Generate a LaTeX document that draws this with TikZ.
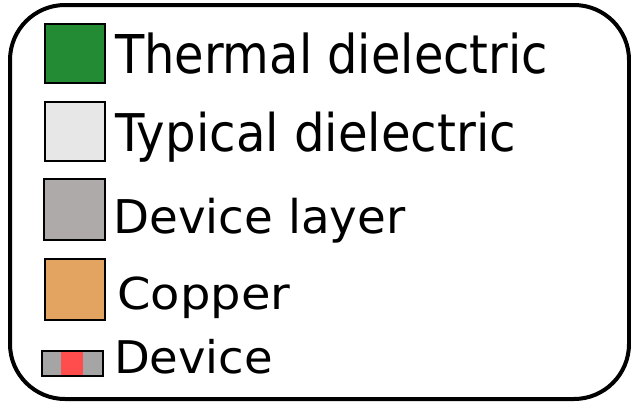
\documentclass[tikz,border=0pt]{standalone}
\usepackage{fontspec}
\setmainfont{DejaVu Sans}
\usepackage{graphicx}
\definecolor{thermgreen}{RGB}{34,139,52}
\definecolor{typgray}{RGB}{231,231,231}
\definecolor{devlayer}{RGB}{174,170,170}
\definecolor{copper}{RGB}{227,163,97}
\definecolor{devgray}{RGB}{165,165,165}
\definecolor{devred}{RGB}{255,76,76}
\tikzset{
  swatch/.style={draw=black, line width=1.6pt, inner sep=0pt, outer sep=0pt, minimum width=60pt, minimum height=59pt},
  lbl/.style={anchor=base west, inner sep=0pt, outer sep=0pt, text=black},
  frame/.style={draw=black, line width=4pt, rounded corners=55pt}
}
\begin{document}
\begin{tikzpicture}[x=1pt, y=-1pt]
\useasboundingbox (0,0) rectangle (631,405);
\draw[frame] (10,5) rectangle (629,399);
% swatches
\node[swatch, fill=thermgreen] (s1) at (75,53.5) {};
\node[swatch, fill=typgray] (s2) at (75,131.5) {};
\node[swatch, fill=devlayer, minimum width=61pt, minimum height=61pt] (s3) at (74.5,209.5) {};
\node[swatch, fill=copper, minimum height=61pt] (s4) at (75,289.5) {};
% device icon
\fill[devgray] (42,351) rectangle (103,376);
\fill[devred] (61,351) rectangle (83,376);
\node[draw=black, line width=2pt, inner sep=0pt, minimum width=61pt, minimum height=25pt] (s5) at (72.5,363.5) {};
% labels
\node[lbl] (t1) at (115,73) {\resizebox{433pt}{\height}{\fontsize{53.5}{60}\selectfont Thermal dielectric}};
\node[lbl] (t2) at (115,151) {\resizebox{401pt}{\height}{\fontsize{52}{60}\selectfont Typical dielectric}};
\node[lbl] (t3) at (113.5,233) {\resizebox{292pt}{\height}{\fontsize{46.5}{55}\selectfont Device layer}};
\node[lbl] (t4) at (117.5,309) {\resizebox{173pt}{\height}{\fontsize{44}{52}\selectfont Copper}};
\node[lbl] (t5) at (114,373) {\resizebox{159pt}{\height}{\fontsize{45}{52}\selectfont Device}};
\end{tikzpicture}
\end{document}
